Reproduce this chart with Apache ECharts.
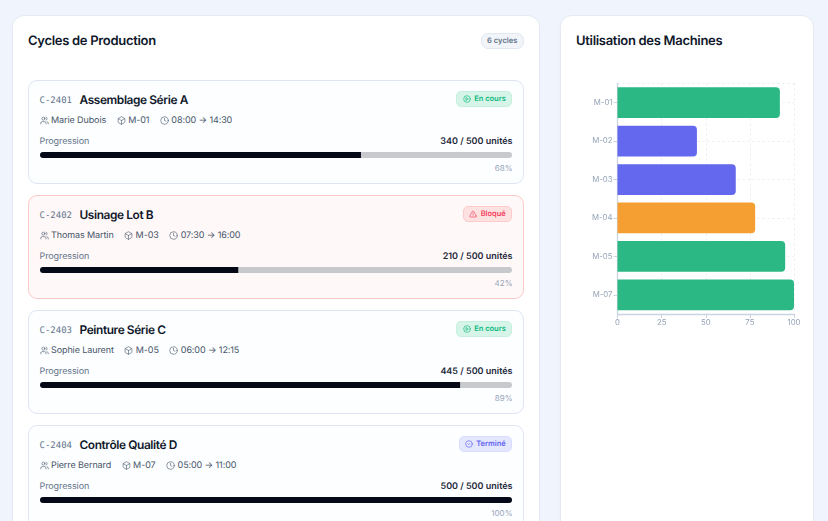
<!DOCTYPE html>
<html lang="fr">
<head>
<meta charset="utf-8">
<title>Cycles de Production</title>
<script src="https://cdn.jsdelivr.net/npm/echarts@6/dist/echarts.min.js"></script>
<style>
  html, body { margin: 0; padding: 0; width: 828px; height: 521px; overflow: hidden; background: #f0f5fd; font-family: Inter, sans-serif; text-rendering: geometricPrecision; }
  .panel { position: absolute; top: 15px; height: 600px; background: #fff; border: 1px solid #e6ebf3; border-radius: 12px; box-sizing: border-box; box-shadow: 0 1px 2px rgba(15,23,42,.04); }
  #left { left: 12px; width: 528px; }
  #right { left: 560px; width: 254px; }
  .panel h2 { position: absolute; left: 15px; top: 16px; margin: 0; font-size: 13px; letter-spacing: -0.3px; line-height: 18px; font-weight: 600; color: #0f172a; white-space: nowrap; }
  #count { position: absolute; right: 15px; top: 17px; height: 14px; line-height: 14px; padding: 0 5.5px; font-size: 7.6px; font-weight: 600; color: #64748b; background: #f1f5f9; border: 0.5px solid #e2e8f0; border-radius: 7px; }
  .card { position: absolute; left: 28px; width: 496px; height: 104px; box-sizing: border-box; border: 1.5px solid #dfe5f2; border-radius: 9px; background: #fcfeff; }
  .card.blocked { background: #fff8f8; border-color: #fdcaca; }
  .code { position: absolute; left: 10.5px; top: 12.5px; font-family: "DejaVu Sans Mono", monospace; font-size: 9px; line-height: 14px; color: #64748b; }
  .name { position: absolute; left: 50.5px; top: 10px; font-size: 11.9px; letter-spacing: -0.4px; line-height: 18px; font-weight: 600; color: #0f172a; white-space: nowrap; }
  .meta { position: absolute; left: 10.5px; top: 32.5px; display: flex; font-size: 9px; letter-spacing: -0.1px; line-height: 14px; color: #475569; white-space: nowrap; }
  .meta span { display: flex; align-items: center; margin-right: 10.5px; }
  .meta svg { width: 9px; height: 9px; margin-right: 2.5px; }
  .meta svg * { stroke-width: 1.6; }
  .label { position: absolute; left: 10.5px; top: 53.5px; font-size: 9px; letter-spacing: -0.1px; line-height: 14px; color: #64748b; }
  .units { position: absolute; right: 10.5px; top: 53.5px; font-size: 9px; line-height: 14px; font-weight: 600; color: #1e293b; }
  .bar { position: absolute; left: 10.5px; top: 71px; width: 472px; height: 6px; border-radius: 3px; overflow: hidden; }
  .pct { position: absolute; right: 10.5px; top: 81px; font-size: 8px; line-height: 12px; color: #94a3b8; }
  .badge { position: absolute; right: 11px; top: 9.5px; height: 14px; line-height: 14px; display: flex; align-items: center; padding: 0 5.2px; font-size: 7.5px; font-weight: 600; border-radius: 5px; border: 0.5px solid; }
  .badge svg { width: 8px; height: 8px; margin-right: 3.5px; }
  .running { color: #10b981; background: #d6f5e8; border-color: #c4f0dd; }
  .blockedb { color: #f43f5e; background: #fee2e2; border-color: #fecaca; }
  .done { color: #6366f1; background: #e5e7ff; border-color: #d8dcfe; }
  #chart { position: absolute; left: 560px; top: 60px; width: 268px; height: 290px; }
</style>
</head>
<body>
<div class="panel" id="left"><h2>Cycles de Production</h2><div id="count">6 cycles</div></div>
<div class="panel" id="right"><h2>Utilisation des Machines</h2></div>
<div id="chart"></div>
<script>
// cycles
const cycleCodes = ['C-2401', 'C-2402', 'C-2403', 'C-2404']
const cycleNames = ['Assemblage Série A', 'Usinage Lot B', 'Peinture Série C', 'Contrôle Qualité D']
const cycleOperators = ['Marie Dubois', 'Thomas Martin', 'Sophie Laurent', 'Pierre Bernard']
const cycleMachines = ['M-01', 'M-03', 'M-05', 'M-07']
const cycleHours = ['08:00 → 14:30', '07:30 → 16:00', '06:00 → 12:15', '05:00 → 11:00']
const cycleStatus = ['En cours', 'Bloqué', 'En cours', 'Terminé']
const cycleDone = [340, 210, 445, 500]
const cycleTarget = [500, 500, 500, 500]
const cyclePercent = [68, 42, 89, 100]

// machines
const machineNames = ['M-01', 'M-02', 'M-03', 'M-04', 'M-05', 'M-07']
const machineUsage = [92, 45, 67, 78, 95, 100]
const machineState = ['ok', 'low', 'low', 'warn', 'ok', 'ok']
const usageTicks = [0, 25, 50, 75, 100]

const stateColors = { ok: '#2bb885', low: '#6368ee', warn: '#f59f33' }
const font = 'Inter, sans-serif'

const svg = body => `<svg viewBox="0 0 24 24" fill="none" stroke="currentColor" stroke-width="2" stroke-linecap="round" stroke-linejoin="round">${body}</svg>`
const icons = {
  users: svg('<path d="M16 21v-2a4 4 0 0 0-4-4H6a4 4 0 0 0-4 4v2"/><circle cx="9" cy="7" r="4"/><path d="M22 21v-2a4 4 0 0 0-3-3.87"/><path d="M16 3.13a4 4 0 0 1 0 7.75"/>'),
  box: svg('<path d="M21 8a2 2 0 0 0-1-1.73l-7-4a2 2 0 0 0-2 0l-7 4A2 2 0 0 0 3 8v8a2 2 0 0 0 1 1.73l7 4a2 2 0 0 0 2 0l7-4A2 2 0 0 0 21 16Z"/><path d="m3.3 7 8.7 5 8.7-5"/><path d="M12 22V12"/>'),
  clock: svg('<circle cx="12" cy="12" r="10"/><path d="M12 6v6l4 2"/>'),
  play: svg('<circle cx="12" cy="12" r="10"/><path d="m10 8 6 4-6 4Z"/>'),
  alert: svg('<path d="m21.73 18-8-14a2 2 0 0 0-3.48 0l-8 14A2 2 0 0 0 4 21h16a2 2 0 0 0 1.73-3Z"/><path d="M12 9v4"/><path d="M12 17h.01"/>'),
  check: svg('<circle cx="12" cy="12" r="10"/><path d="m9 12 2 2 4-4"/>')
}
const badgeStyle = {
  'En cours': ['running', icons.play],
  'Bloqué': ['blockedb', icons.alert],
  'Terminé': ['done', icons.check]
}

cycleCodes.forEach((code, i) => {
  const [badgeClass, badgeIcon] = badgeStyle[cycleStatus[i]]
  const card = document.createElement('div')
  card.className = 'card' + (cycleStatus[i] === 'Bloqué' ? ' blocked' : '')
  card.style.top = (80 + i * 115) + 'px'
  card.innerHTML = `
    <div class="code">${code}</div>
    <div class="name">${cycleNames[i]}</div>
    <div class="badge ${badgeClass}">${badgeIcon}${cycleStatus[i]}</div>
    <div class="meta">
      <span>${icons.users}${cycleOperators[i]}</span>
      <span>${icons.box}${cycleMachines[i]}</span>
      <span>${icons.clock}${cycleHours[i]}</span>
    </div>
    <div class="label">Progression</div>
    <div class="units">${cycleDone[i]} / ${cycleTarget[i]} unités</div>
    <div class="bar"></div>
    <div class="pct">${cyclePercent[i]}%</div>`
  document.body.appendChild(card)

  // progress bar is a tiny chart of its own
  const barChart = echarts.init(card.querySelector('.bar'))
  barChart.setOption({
    animation: false,
    grid: { left: 0, right: 0, top: 0, bottom: 0 },
    xAxis: { type: 'value', min: 0, max: cycleTarget[i], show: false },
    yAxis: { type: 'category', data: [code], show: false },
    series: [{
      type: 'bar',
      data: [cycleDone[i]],
      barWidth: '100%',
      showBackground: true,
      backgroundStyle: { color: '#c8c9cc', opacity: 1 },
      itemStyle: { color: '#050816' },
      silent: true
    }]
  })
})

const chart = echarts.init(document.getElementById('chart'))
const gridLine = { show: true, lineStyle: { color: '#e8ecf2', type: [2, 3], width: 1 } }
chart.setOption({
  animation: false,
  textStyle: { fontFamily: font },
  grid: { left: 57.5, right: 34, top: 23.5, bottom: 36 },
  xAxis: {
    type: 'value',
    min: usageTicks[0],
    max: usageTicks[usageTicks.length - 1],
    interval: usageTicks[1] - usageTicks[0],
    axisLine: { show: true, lineStyle: { color: '#cbd5e1', width: 1.3 } },
    axisTick: { show: true, length: 4, lineStyle: { color: '#cbd5e1' } },
    axisLabel: { fontFamily: font, fontSize: 7.8, color: '#94a3b8', margin: 5, showMaxLabel: true },
    splitLine: gridLine
  },
  yAxis: [
    {
      type: 'category',
      inverse: true,
      data: machineNames,
      axisLine: { show: true, onZero: false, lineStyle: { color: '#cbd5e1', width: 1.3 } },
      axisTick: { show: true, length: 4, alignWithLabel: true, lineStyle: { color: '#cbd5e1' } },
      axisLabel: { fontFamily: font, fontSize: 7.8, color: '#94a3b8', margin: 5 },
      splitLine: { ...gridLine, alignWithLabel: true }
    },
    {
      // only there for the dotted line along the top of the plot
      type: 'value',
      min: 0,
      max: 1,
      interval: 1,
      position: 'right',
      axisLine: { show: false },
      axisTick: { show: false },
      axisLabel: { show: false },
      splitLine: gridLine
    }
  ],
  series: [{
    type: 'bar',
    barCategoryGap: '20%',
    yAxisIndex: 0,
    data: machineUsage.map((v, i) => ({ value: v, itemStyle: { color: stateColors[machineState[i]] } })),
    itemStyle: { borderRadius: [0, 4, 4, 0] },
    z: 5
  }]
})
</script>
</body>
</html>
